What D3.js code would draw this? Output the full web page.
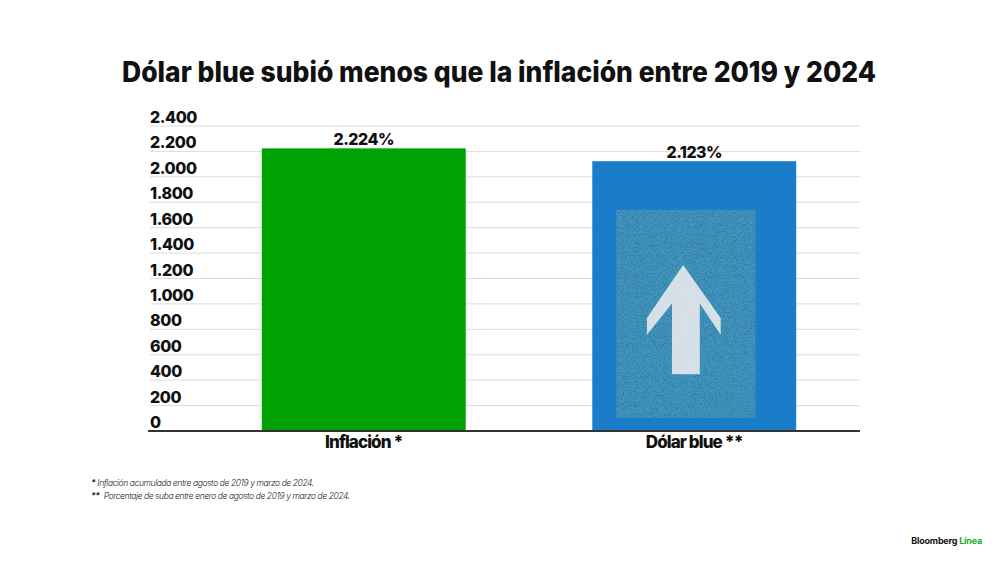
<!DOCTYPE html>
<html>
<head>
<meta charset="utf-8">
<script src="https://cdn.jsdelivr.net/npm/d3@7"></script>
<style>
  html, body { margin: 0; padding: 0; background: #fff; }
  text { font-family: Inter, "Noto Sans", sans-serif; }
</style>
</head>
<body>
<div id="chart"></div>
<script>
// data
const categories = ["Inflación *", "Dólar blue **"];
const values = [2224, 2123];
const valueLabels = ["2.224%", "2.123%"];
const yTicks = [0, 200, 400, 600, 800, 1000, 1200, 1400, 1600, 1800, 2000, 2200, 2400];
const notes = [
  ["*", " Inflación acumulada entre agosto de 2019 y marzo de 2024."],
  ["**", "  Porcentaje de suba entre enero de agosto de 2019 y marzo de 2024."]
];

const width = 1000;
const height = 562;

const svg = d3.select("#chart")
  .append("svg")
  .attr("width", width)
  .attr("height", height);

// number format with dot as thousands separator
const esFormat = d3.formatLocale({ decimal: ",", thousands: ".", grouping: [3], currency: ["$", ""] }).format(",");

// scales
const y = d3.scaleLinear().domain([0, 2400]).range([431, 126]);
const x = d3.scaleBand()
  .domain(categories)
  .range([198.5, 859.5])
  .paddingInner(0.383)
  .paddingOuter(0.1915);

// title
svg.append("text")
  .attr("x", 499)
  .attr("y", 82)
  .attr("text-anchor", "middle")
  .attr("font-size", 28)
  .attr("font-weight", 800)
  .attr("fill", "#111")
  .attr("textLength", 754)
  .attr("lengthAdjust", "spacingAndGlyphs")
  .text("Dólar blue subió menos que la inflación entre 2019 y 2024");

// gridlines
svg.append("g")
  .selectAll("line")
  .data(yTicks.filter(d => d > 0))
  .join("line")
  .attr("x1", 150)
  .attr("x2", 860)
  .attr("y1", d => y(d))
  .attr("y2", d => y(d))
  .attr("stroke", "#dcdcdc")
  .attr("stroke-width", 1);

// tick labels sit above their gridline
svg.append("g")
  .selectAll("text")
  .data(yTicks)
  .join("text")
  .attr("x", 150)
  .attr("y", d => y(d) - 3)
  .attr("font-size", 16)
  .attr("font-weight", 800)
  .attr("letter-spacing", -0.4)
  .attr("fill", "#111")
  .text(d => esFormat(d));

// speckle texture for the photo in the blue bar
const defs = svg.append("defs");
const f = defs.append("filter").attr("id", "asphalt")
  .attr("x", 0).attr("y", 0).attr("width", 1).attr("height", 1);
f.append("feTurbulence")
  .attr("type", "fractalNoise")
  .attr("baseFrequency", 0.9)
  .attr("numOctaves", 2)
  .attr("seed", 7)
  .attr("result", "noise");
f.append("feColorMatrix")
  .attr("in", "noise")
  .attr("type", "matrix")
  .attr("values", "0 0 0 0 0.05  0 0 0 0 0.18  0 0 0 0 0.28  4.5 0 0 0 -2.15")
  .attr("result", "dark");
f.append("feComposite").attr("in", "dark").attr("in2", "SourceAlpha").attr("operator", "in").attr("result", "darkIn");
const merge = f.append("feMerge");
merge.append("feMergeNode").attr("in", "SourceGraphic");
merge.append("feMergeNode").attr("in", "darkIn");

// bars
const colors = ["#00a203", "#1a7dc9"];
svg.append("g")
  .selectAll("rect")
  .data(values)
  .join("rect")
  .attr("x", (d, i) => x(categories[i]))
  .attr("y", d => y(d))
  .attr("width", x.bandwidth())
  .attr("height", d => y(0) - y(d))
  .attr("fill", (d, i) => colors[i]);

// photo inset on the second bar (road with a painted arrow)
const bx = x(categories[1]);
const bw = x.bandwidth();
const px0 = bx + bw * 0.118, px1 = bx + bw * 0.80;
const py0 = y(1740), py1 = y(102);
const pw = px1 - px0, ph = py1 - py0;
const photo = svg.append("g");
photo.append("rect")
  .attr("x", px0).attr("y", py0)
  .attr("width", pw).attr("height", ph)
  .attr("fill", "#3d95c2")
  .attr("filter", "url(#asphalt)");

const arrow = d3.path();
const ax = t => px0 + pw * t;
const ay = t => py0 + ph * t;
arrow.moveTo(ax(0.48), ay(0.265));
arrow.lineTo(ax(0.75), ay(0.52));
arrow.lineTo(ax(0.75), ay(0.60));
arrow.lineTo(ax(0.60), ay(0.45));
arrow.lineTo(ax(0.60), ay(0.79));
arrow.lineTo(ax(0.40), ay(0.79));
arrow.lineTo(ax(0.40), ay(0.45));
arrow.lineTo(ax(0.22), ay(0.60));
arrow.lineTo(ax(0.22), ay(0.52));
arrow.closePath();
photo.append("path")
  .attr("d", arrow.toString())
  .attr("fill", "#dde5e9")
  .attr("opacity", 0.95);

// value labels
svg.append("g")
  .selectAll("text")
  .data(values)
  .join("text")
  .attr("x", (d, i) => x(categories[i]) + x.bandwidth() / 2)
  .attr("y", d => y(d) - 3)
  .attr("text-anchor", "middle")
  .attr("font-size", 16)
  .attr("font-weight", 800)
  .attr("letter-spacing", -0.5)
  .attr("fill", "#111")
  .text((d, i) => valueLabels[i]);

// baseline
svg.append("line")
  .attr("x1", 148)
  .attr("x2", 860)
  .attr("y1", y(0))
  .attr("y2", y(0))
  .attr("stroke", "#333")
  .attr("stroke-width", 2);

// category labels
svg.append("g")
  .selectAll("text")
  .data(categories)
  .join("text")
  .attr("x", d => x(d) + x.bandwidth() / 2)
  .attr("y", 448)
  .attr("text-anchor", "middle")
  .attr("font-size", 17)
  .attr("font-weight", 800)
  .attr("letter-spacing", -0.9)
  .attr("fill", "#111")
  .text(d => d);

// footnotes
const nt = svg.append("g")
  .selectAll("text")
  .data(notes)
  .join("text")
  .attr("x", 91)
  .attr("y", (d, i) => 486 + i * 13)
  .attr("font-size", 8.5)
  .attr("font-style", "italic")
  .attr("letter-spacing", -0.4)
  .attr("fill", "#222");
nt.append("tspan").attr("font-weight", 700).text(d => d[0]);
nt.append("tspan").attr("font-weight", 300).attr("xml:space", "preserve").text(d => d[1]);

// brand
const brand = svg.append("text")
  .attr("x", 982)
  .attr("y", 544)
  .attr("text-anchor", "end")
  .attr("font-size", 9)
  .attr("font-weight", 700)
  .attr("letter-spacing", -0.2);
brand.append("tspan").attr("fill", "#111").text("Bloomberg ");
brand.append("tspan").attr("fill", "#1faa2a").text("Línea");
</script>
</body>
</html>
